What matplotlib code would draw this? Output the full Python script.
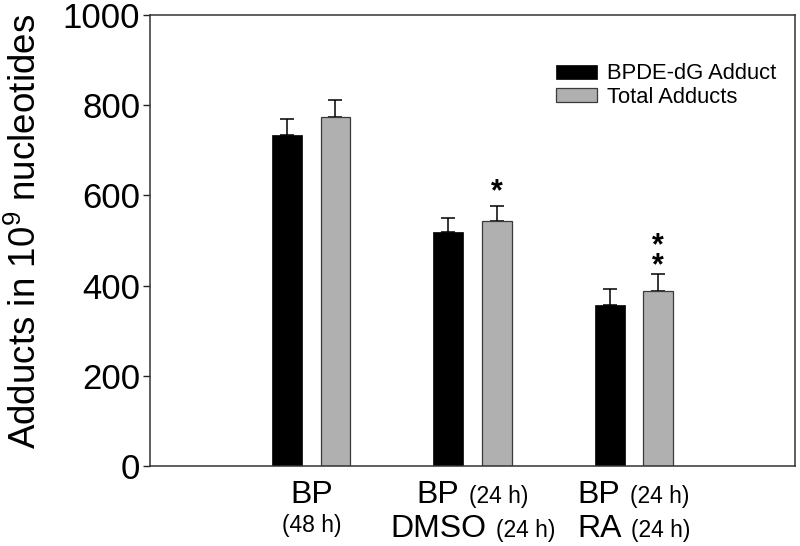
import numpy as np
import matplotlib
matplotlib.use('Agg')
import matplotlib.pyplot as plt
from matplotlib.offsetbox import TextArea, HPacker, VPacker, AnnotationBbox

plt.rcParams['font.family'] = ['Liberation Sans', 'DejaVu Sans']
plt.rcParams['mathtext.fontset'] = 'custom'
plt.rcParams['mathtext.rm'] = 'Liberation Sans'

# Data
groups = [1, 2, 3]
bpde = [733, 519, 358]
bpde_err = [37, 31, 34]
total = [773, 543, 389]
total_err = [38, 33, 36]
series_names = ['BPDE-dG Adduct', 'Total Adducts']
# group labels: lines of (main, small) text pieces
group_labels = [
    [('BP', ''), ('', '(48 h)')],
    [('BP', '(24 h)'), ('DMSO', '(24 h)')],
    [('BP', '(24 h)'), ('RA', '(24 h)')],
]
# significance marks above the total bars (group index, y centre, text)
stars = [(1, 608, '*'), (2, 465, '*\n*')]

fig = plt.figure(figsize=(8, 5.46), dpi=100)
ax = fig.add_axes([0.1875, 0.1465, 0.8063, 0.826])

x = np.array(groups, dtype=float)
w = 0.185
off = 0.15
ax.bar(x - off, bpde, w, color='black', edgecolor='black', linewidth=0.5,
       label=series_names[0], zorder=2)
ax.bar(x + off, total, w, color='#b0b0b0', edgecolor='#3a3a3a', linewidth=0.9,
       label=series_names[1], zorder=2)
ax.errorbar(x - off, bpde, yerr=[np.zeros(3), bpde_err], fmt='none',
            ecolor='black', elinewidth=1.1, capsize=4.7, capthick=1.1, zorder=1)
ax.errorbar(x + off, total, yerr=[np.zeros(3), total_err], fmt='none',
            ecolor='black', elinewidth=1.1, capsize=4.7, capthick=1.1, zorder=1)

for gi, yv, s in stars:
    ax.text(x[gi] + off, yv, s, ha='center', va='center',
            fontsize=22, fontweight='bold', linespacing=0.58)

ax.set_xlim(0, 4)
ax.set_ylim(0, 1000)
ax.set_yticks([0, 200, 400, 600, 800, 1000])
ax.tick_params(axis='y', labelsize=25, length=5, width=1.0, direction='out',
               pad=2, colors='#222222', labelcolor='black')
ax.set_xticks([])
for s in ax.spines.values():
    s.set_linewidth(1.1)
    s.set_color('#333333')

ax.set_ylabel('Adducts in 10$\\mathregular{^9}$ nucleotides', fontsize=26.5)
ax.yaxis.set_label_coords(-0.164, 0.52)

# group labels below the axis, large main text plus smaller time
for gx, lines in zip(x, group_labels):
    rows = []
    for main, small in lines:
        parts = []
        if main:
            parts.append(TextArea(main, textprops=dict(size=23)))
        if small:
            parts.append(TextArea(small, textprops=dict(size=16.5)))
        rows.append(HPacker(children=parts, align='baseline', pad=0, sep=7))
    box = VPacker(children=rows, align='center', pad=0, sep=3)
    ab = AnnotationBbox(box, (gx, -0.03), xycoords=ax.get_xaxis_transform(),
                        box_alignment=(0.5, 1), frameon=False, annotation_clip=False)
    ax.add_artist(ab)

ax.legend(loc='upper left', bbox_to_anchor=(0.63, 0.893), frameon=False,
          fontsize=15.8, handlelength=1.87, handleheight=0.6, handletextpad=0.45,
          labelspacing=0.12, borderpad=0, borderaxespad=0)

fig.savefig('out.png', dpi=100)
